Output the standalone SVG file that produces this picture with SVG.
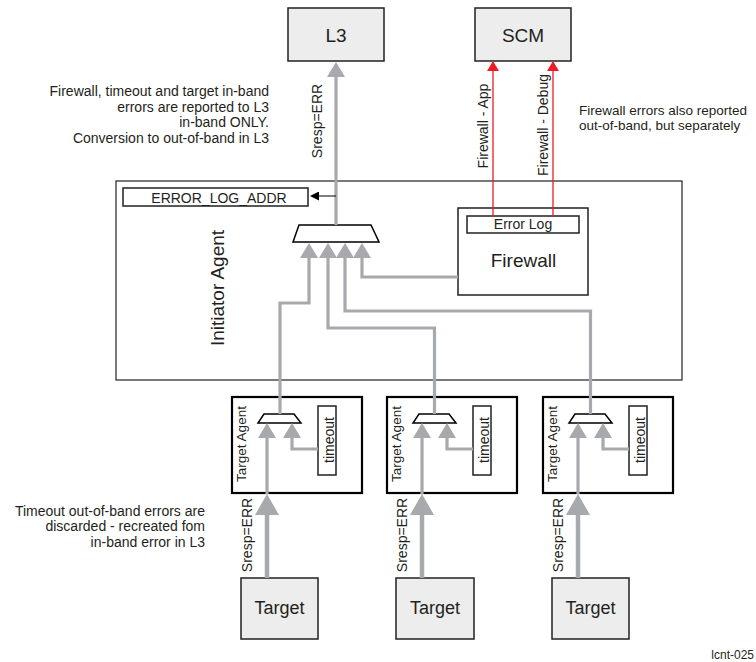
<svg xmlns="http://www.w3.org/2000/svg" width="756" height="662" viewBox="0 0 756 662">
<style>
text{font-family:"Liberation Sans",Arial,sans-serif;fill:#231f20}
.box{fill:#ededed;stroke:#231f20;stroke-width:1.5}
.wbox{fill:#fff;stroke:#231f20;stroke-width:1.5}
.tabox{fill:#fff;stroke:#000;stroke-width:2.2}
.ibox{fill:#fff;stroke:#231f20;stroke-width:1.2}
.mux{fill:#fff;stroke:#000;stroke-width:1.5}
.g{fill:none;stroke:#a7a9ac;stroke-width:3.2}
.gt{fill:none;stroke:#a7a9ac;stroke-width:4.5}
.r{fill:none;stroke:#ed1c24;stroke-width:1.3}
.k{fill:none;stroke:#000;stroke-width:1}
</style>
<defs>
<marker id="ga" markerUnits="userSpaceOnUse" viewBox="0 0 15 18" markerWidth="15" markerHeight="18" refX="1" refY="9" orient="auto"><path d="M0,0 L15,9 L0,18 z" fill="#a7a9ac"/></marker>
<marker id="gb" markerUnits="userSpaceOnUse" viewBox="0 0 21 24" markerWidth="21" markerHeight="24" refX="1" refY="12" orient="auto"><path d="M0,0 L21,12 L0,24 z" fill="#a7a9ac"/></marker>
<marker id="ra" markerUnits="userSpaceOnUse" viewBox="0 0 10 12" markerWidth="10" markerHeight="12" refX="1" refY="6" orient="auto"><path d="M0,0 L10,6 L0,12 z" fill="#ed1c24"/></marker>
<marker id="ka" markerUnits="userSpaceOnUse" viewBox="0 0 9 9" markerWidth="9" markerHeight="9" refX="1" refY="4.5" orient="auto"><path d="M0,0 L9,4.5 L0,9 z" fill="#000"/></marker>
</defs>

<g id="notes">
<text x="269" y="96" font-size="14" text-anchor="end">Firewall, timeout and target in-band</text>
<text x="269" y="111.5" font-size="14" text-anchor="end">errors are reported to L3</text>
<text x="269" y="127" font-size="14" text-anchor="end">in-band ONLY.</text>
<text x="269" y="142.5" font-size="14" text-anchor="end">Conversion to out-of-band in L3</text>
<text x="579" y="115" font-size="13.5">Firewall errors also reported</text>
<text x="579" y="130" font-size="13.5">out-of-band, but separately</text>
<text x="205" y="515.5" font-size="14" text-anchor="end">Timeout out-of-band errors are</text>
<text x="205" y="531" font-size="14" text-anchor="end">discarded - recreated fom</text>
<text x="205" y="546.5" font-size="14" text-anchor="end">in-band error in L3</text>
<text x="754" y="659" font-size="12" text-anchor="end">lcnt-025</text>
</g>

<g id="L3">
<rect class="box" x="288" y="8" width="96" height="53"/>
<text x="336" y="42" font-size="19" text-anchor="middle">L3</text>
</g>
<g id="SCM">
<rect class="box" x="475" y="8" width="96" height="53"/>
<text x="523" y="42" font-size="19" text-anchor="middle">SCM</text>
</g>

<g id="initiator-agent">
<rect class="ibox" x="116" y="181" width="566" height="199"/>
<text transform="translate(224,288) rotate(-90)" font-size="19" text-anchor="middle">Initiator Agent</text>
<rect class="wbox" x="123" y="188" width="185" height="18" stroke-width="1.2"/>
<text x="219" y="202.5" font-size="14" text-anchor="middle">ERROR_LOG_ADDR</text>
<polygon class="mux" points="299,225 371,225 379,242 293,242"/>
</g>

<g id="firewall">
<rect class="wbox" x="458" y="208" width="130" height="87"/>
<rect class="wbox" x="467" y="216" width="112" height="17" stroke-width="1.2"/>
<text x="523" y="229" font-size="14" text-anchor="middle">Error Log</text>
<text x="523.5" y="267" font-size="19" text-anchor="middle">Firewall</text>
</g>

<g id="target-agent-1">
<rect class="tabox" x="232" y="397" width="130" height="96"/>
<text transform="translate(246,444) rotate(-90)" font-size="13.5" text-anchor="middle">Target Agent</text>
<rect class="wbox" x="318" y="406" width="18" height="69" stroke-width="1.2"/>
<text transform="translate(334,440) rotate(-90)" font-size="14" text-anchor="middle">timeout</text>
<polygon class="mux" points="264,414 294,414 301,423 258,423"/>
</g>
<g id="target-agent-2">
<rect class="tabox" x="387" y="397" width="130" height="96"/>
<text transform="translate(401,444) rotate(-90)" font-size="13.5" text-anchor="middle">Target Agent</text>
<rect class="wbox" x="473" y="406" width="18" height="69" stroke-width="1.2"/>
<text transform="translate(489,440) rotate(-90)" font-size="14" text-anchor="middle">timeout</text>
<polygon class="mux" points="419,414 449,414 456,423 413,423"/>
</g>
<g id="target-agent-3">
<rect class="tabox" x="543" y="397" width="130" height="96"/>
<text transform="translate(557,444) rotate(-90)" font-size="13.5" text-anchor="middle">Target Agent</text>
<rect class="wbox" x="629" y="406" width="18" height="69" stroke-width="1.2"/>
<text transform="translate(645,440) rotate(-90)" font-size="14" text-anchor="middle">timeout</text>
<polygon class="mux" points="575,414 605,414 612,423 569,423"/>
</g>

<g id="target-1">
<rect class="box" x="241" y="578" width="77" height="61"/>
<text x="279.5" y="614" font-size="18" text-anchor="middle">Target</text>
</g>
<g id="target-2">
<rect class="box" x="396" y="578" width="78" height="61"/>
<text x="435" y="614" font-size="18" text-anchor="middle">Target</text>
</g>
<g id="target-3">
<rect class="box" x="552" y="578" width="77" height="61"/>
<text x="590.5" y="614" font-size="18" text-anchor="middle">Target</text>
</g>

<g id="connectors">
<path class="g" d="M336,225 V76" marker-end="url(#ga)"/>
<text transform="translate(322,121) rotate(-90)" font-size="14" text-anchor="middle">Sresp=ERR</text>
<path class="k" d="M336,196 H318" marker-end="url(#ka)"/>
<path class="r" d="M493,216 V70" marker-end="url(#ra)"/>
<path class="r" d="M553,216 V70" marker-end="url(#ra)"/>
<text transform="translate(488,126) rotate(-90)" font-size="14" text-anchor="middle">Firewall - App</text>
<text transform="translate(548,125) rotate(-90)" font-size="14" text-anchor="middle">Firewall - Debug</text>
<path class="g" d="M280,414 V303 H309 V257" marker-end="url(#ga)"/>
<path class="g" d="M434.5,414 V328 H328 V257" marker-end="url(#ga)"/>
<path class="g" d="M590.5,414 V311 H345 V257" marker-end="url(#ga)"/>
<path class="g" d="M458,277 H362 V257" marker-end="url(#ga)"/>
<path class="gt" d="M267,578 V514" marker-end="url(#gb)"/>
<path class="g" d="M267,494 V437" marker-end="url(#ga)"/>
<path class="g" d="M318,449 H292 V437" marker-end="url(#ga)"/>
<text transform="translate(252,535) rotate(-90)" font-size="14" text-anchor="middle">Sresp=ERR</text>
<path class="gt" d="M422,578 V514" marker-end="url(#gb)"/>
<path class="g" d="M422,494 V437" marker-end="url(#ga)"/>
<path class="g" d="M473,449 H447 V437" marker-end="url(#ga)"/>
<text transform="translate(407,535) rotate(-90)" font-size="14" text-anchor="middle">Sresp=ERR</text>
<path class="gt" d="M578,578 V514" marker-end="url(#gb)"/>
<path class="g" d="M578,494 V437" marker-end="url(#ga)"/>
<path class="g" d="M629,449 H603 V437" marker-end="url(#ga)"/>
<text transform="translate(563,535) rotate(-90)" font-size="14" text-anchor="middle">Sresp=ERR</text>
</g>
</svg>
